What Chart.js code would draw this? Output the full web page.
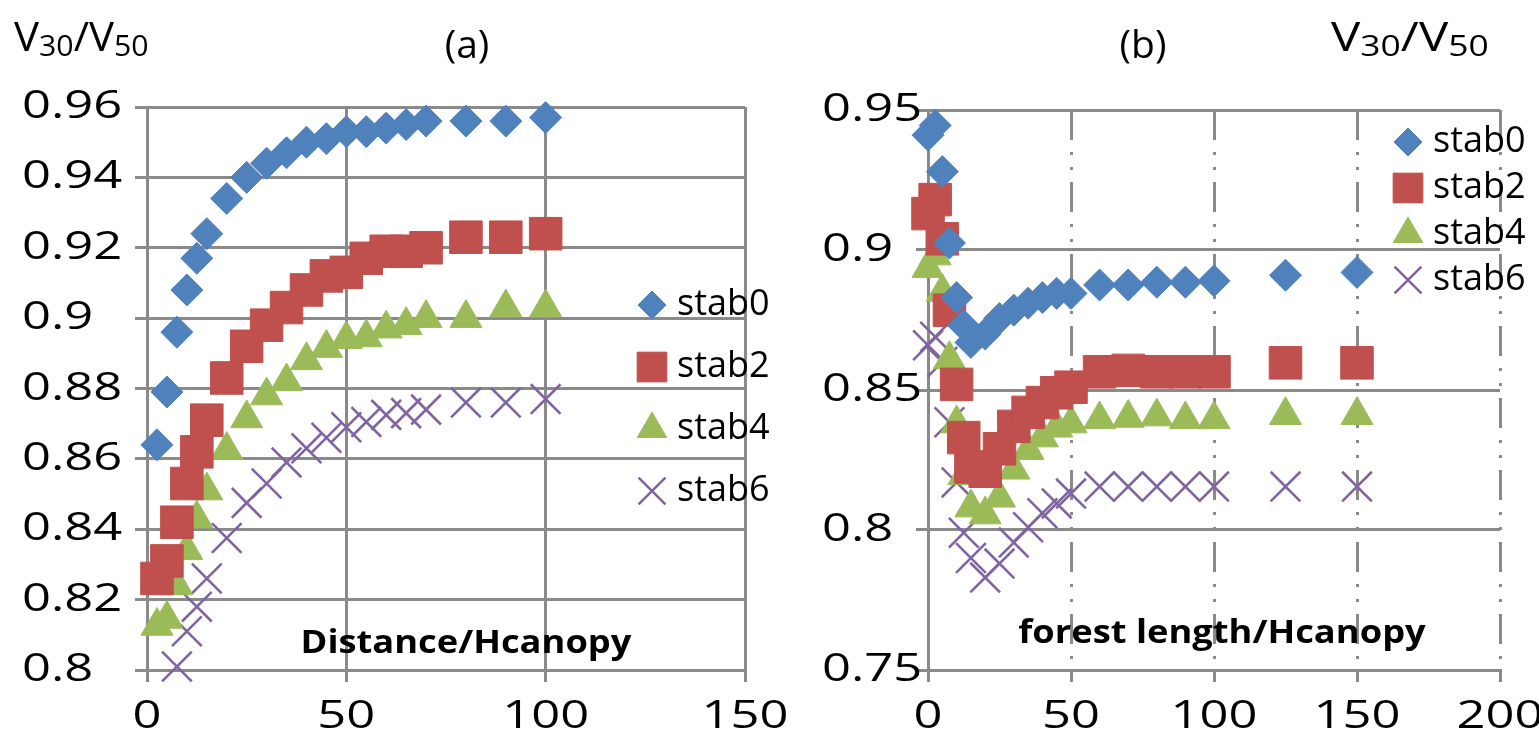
<!DOCTYPE html>
<html><head><meta charset="utf-8">
<script src="https://cdn.jsdelivr.net/npm/chart.js@4.4.0/dist/chart.umd.min.js"></script>
<style>
html,body{margin:0;padding:0;background:#fff;width:1539px;height:741px;overflow:hidden;font-family:"Open Sans",sans-serif;}
.box{position:absolute;top:0;height:741px;}
.t{position:absolute;white-space:nowrap;color:#000;font-size:38px;line-height:1;}
.t sub{font-size:0.72em;vertical-align:-0.18em;line-height:0}
.c{transform:translate(-50%,-50%);}
.cs{transform:translate(-50%,-50%) scaleX(1.1);}
.b{font-weight:bold;font-size:33px;}
.v{transform-origin:0 0;}
</style></head><body>
<div class="box" style="left:0;width:810px"><canvas id="ca"></canvas></div>
<div class="box" style="left:775px;width:764px"><canvas id="cb"></canvas></div>
<div class="t v" style="left:14px;top:16px;font-size:40px;transform:scaleX(1.05)">V<sub>30</sub>/V<sub>50</sub></div>
<div class="t v" style="left:1331px;top:15px;font-size:41px;transform:scaleX(1.2)">V<sub>30</sub>/V<sub>50</sub></div>
<div class="t c" style="left:467px;top:42px;font-size:39px">(a)</div>
<div class="t c" style="left:1143px;top:42px;font-size:39px">(b)</div>
<div class="t cs b" style="left:466px;top:640px">Distance/Hcanopy</div>
<div class="t cs b" style="left:1222px;top:630px">forest length/Hcanopy</div>
<script>
// ---------- data: chart (a) ----------
const seriesNames = ['stab0','stab2','stab4','stab6'];
const xA = [2.5,5,7.5,10,12.5,15,20,25,30,35,40,45,50,55,60,65,70,80,90,100];
const stab0A = [0.864,0.879,0.896,0.908,0.917,0.924,0.934,0.940,0.944,0.947,0.950,0.951,0.953,0.953,0.954,0.955,0.956,0.956,0.956,0.957];
const stab2A = [0.826,0.831,0.842,0.853,0.862,0.871,0.883,0.892,0.898,0.903,0.908,0.912,0.913,0.917,0.919,0.919,0.920,0.923,0.923,0.924];
const stab4A = [0.8125,0.8145,0.824,0.834,0.843,0.851,0.8625,0.8715,0.878,0.882,0.888,0.8915,0.894,0.8945,0.897,0.898,0.900,0.900,0.903,0.903];
const stab6A = [null,null,0.801,0.811,0.818,0.826,0.8375,0.8475,0.853,0.859,0.863,0.866,0.869,0.8705,0.8725,0.873,0.874,0.876,0.876,0.877];
const xTicksA = [0,50,100,150];
const yTicksA = [0.8,0.82,0.84,0.86,0.88,0.9,0.92,0.94,0.96];
const yLabelsA = ['0.8','0.82','0.84','0.86','0.88','0.9','0.92','0.94','0.96'];

// ---------- data: chart (b) ----------
const xB = [0,2.5,5,7.5,10,12.5,15,20,25,30,35,40,45,50,60,70,80,90,100,125,150];
const stab0B = [0.941,0.9445,0.928,0.9025,0.883,0.873,0.867,0.870,0.8755,0.8785,0.881,0.883,0.8845,0.8845,0.8875,0.8875,0.8885,0.8885,0.889,0.891,0.892];
const stab2B = [0.913,0.918,0.904,0.8785,0.852,0.833,0.8225,0.821,0.829,0.837,0.842,0.8455,0.849,0.851,0.8565,0.857,0.8565,0.8565,0.8565,0.8597,0.8597];
const stab4B = [0.8935,0.898,0.885,0.861,0.838,0.8195,0.808,0.8055,0.8115,0.8215,0.8285,0.833,0.8365,0.838,0.8395,0.840,0.8405,0.8395,0.8395,0.841,0.841];
const stab6B = [0.866,0.869,0.860,0.8385,0.817,0.799,0.790,0.783,0.788,0.7955,0.801,0.806,0.8095,0.813,0.8155,0.8155,0.8155,0.8155,0.8155,0.8155,0.8155];
const xTicksB = [0,50,100,150,200];
const yTicksB = [0.75,0.8,0.85,0.9,0.95];
const yLabelsB = ['0.75','0.8','0.85','0.9','0.95'];

// ---------- styling ----------
const FONT = '"Open Sans", sans-serif';
const TICK_SIZE = 39;
const TICK_STRETCH = 1.3;
const colors = ['#4F81BD','#C0504D','#9BBB59','#8064A2'];
const styles = ['rectRot','rect','triangle','crossRot'];
const radii = [16,23,18.5,21];
const legendRadii = [14,21,17,19];
const GRID = '#8a8a8a';

function pts(xs, ys){ const out=[]; xs.forEach((x,i)=>{ if(ys[i]!==null) out.push({x:x,y:ys[i]}); }); return out; }

function datasets(xs, list){
  return list.map((ys,i)=>({
    label: seriesNames[i], data: pts(xs,ys), pointStyle: styles[i],
    pointRadius: radii[i], pointHoverRadius: radii[i],
    backgroundColor: colors[i], borderColor: colors[i],
    borderWidth: i===3 ? 2.6 : 1, showLine:false, clip:false
  }));
}

// widen tick-label text horizontally (reference labels are stretched)
const stretchPlugin = {
  id:'stretch',
  beforeInit(chart){
    const ctx = chart.ctx;
    const orig = ctx.fillText.bind(ctx);
    ctx.fillText = function(t,x,y,mw){
      if (ctx.font.indexOf(TICK_SIZE+'px') >= 0) {
        ctx.save(); ctx.translate(x,y); ctx.scale(TICK_STRETCH,1); orig(t,0,0); ctx.restore();
      } else if (mw !== undefined) orig(t,x,y,mw); else orig(t,x,y);
    };
  }
};

const legendPlugin = {
  id:'lg',
  afterDatasetsDraw(chart, args, o){
    const ctx = chart.ctx;
    chart.data.datasets.forEach((ds,i)=>{
      const y = o.y0 + i*o.dy;
      ctx.save();
      ctx.fillStyle = ds.backgroundColor; ctx.strokeStyle = ds.borderColor; ctx.lineWidth = ds.borderWidth;
      Chart.helpers.drawPoint(ctx,{pointStyle:ds.pointStyle, radius:legendRadii[i], borderWidth:ds.borderWidth, rotation:0}, o.mx, y);
      ctx.fillStyle = '#000'; ctx.font = o.fs + 'px ' + FONT; ctx.textBaseline='middle'; ctx.textAlign='left';
      ctx.fillText(ds.label, o.tx, y);
      ctx.restore();
    });
  }
};

function make(id, cfg){
  return new Chart(document.getElementById(id), {
    type:'scatter',
    data:{datasets: datasets(cfg.xs, cfg.series)},
    plugins:[stretchPlugin, legendPlugin],
    options:{
      responsive:true, maintainAspectRatio:false, animation:false,
      events:[],
      layout:{autoPadding:false, padding:{left:cfg.padLeft, top:cfg.top, right:cfg.right, bottom:0}},
      plugins:{legend:{display:false}, tooltip:{enabled:false}, lg:cfg.legend},
      scales:{
        x:{type:'linear', min:cfg.xmin, max:cfg.xmax,
          afterBuildTicks:s=>{ s.ticks = cfg.xTicks.map(v=>({value:v})); },
          afterFit:s=>{ s.height = 71; s.paddingLeft = 0; s.paddingRight = 0; },
          ticks:{font:{family:FONT,size:TICK_SIZE}, color:'#000', padding:11, maxRotation:0, callback:v=>String(v)},
          grid:{color:GRID, lineWidth:3, tickLength:12, drawTicks:true},
          border:{display:true, color:GRID, width:3, dash:cfg.xDash}
        },
        y:{type:'linear', min:cfg.ymin, max:cfg.ymax,
          afterBuildTicks:s=>{ s.ticks = cfg.yTicks.map(v=>({value:v})); },
          afterFit:s=>{ s.width = cfg.yWidth; s.paddingTop = 0; s.paddingBottom = 0; },
          ticks:{font:{family:FONT,size:TICK_SIZE}, color:'#000', crossAlign:'far', callback:(v,i)=>cfg.yLabels[i]},
          grid:{color:GRID, lineWidth:3, tickLength:12, drawTicks:true},
          border:{display:true, color:GRID, width:3}
        }
      }
    }
  });
}

make('ca',{xs:xA, series:[stab0A,stab2A,stab4A,stab6A], top:107, right:65, padLeft:22, yWidth:125,
  xmin:0, xmax:150, ymin:0.8, ymax:0.96, xTicks:xTicksA, yTicks:yTicksA, yLabels:yLabelsA,
  xDash:[],
  legend:{mx:652, tx:677, y0:305, dy:62, fs:36}});

make('cb',{xs:xB, series:[stab0B,stab2B,stab4B,stab6B], top:110, right:39, padLeft:47, yWidth:106,
  xmin:0, xmax:200, ymin:0.75, ymax:0.95, xTicks:xTicksB, yTicks:yTicksB, yLabels:yLabelsB,
  xDash:[30,12,3,12,3,12],
  legend:{mx:633, tx:658, y0:142, dy:46, fs:36}});
</script>
</body></html>
